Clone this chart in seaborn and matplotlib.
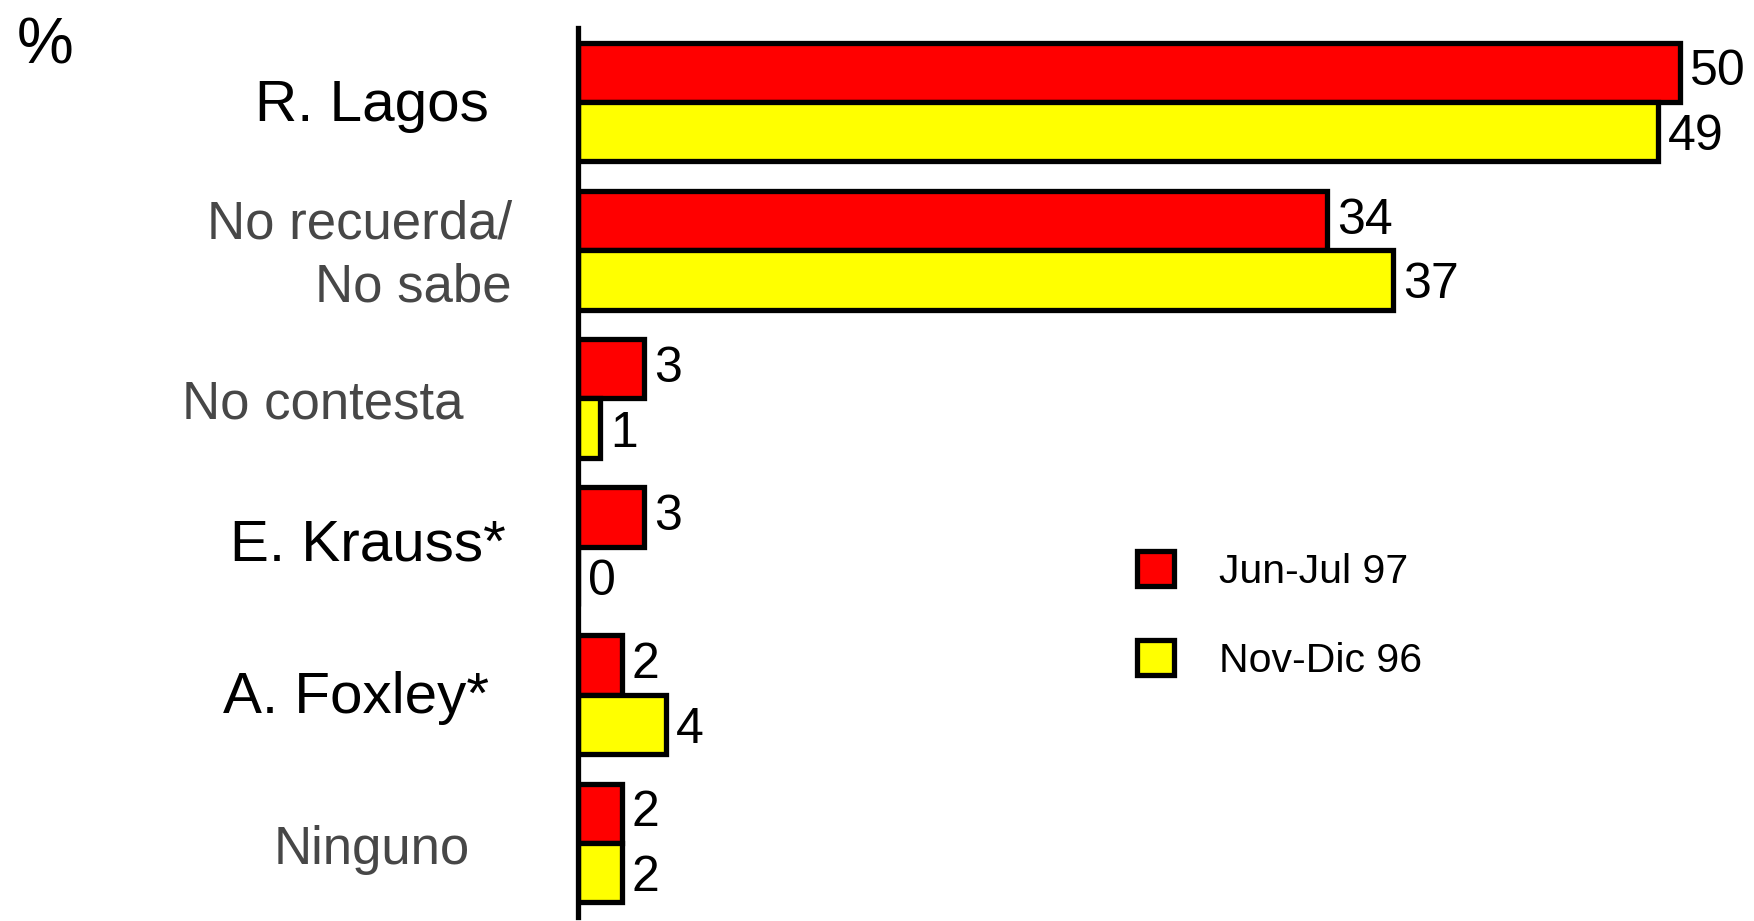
import seaborn as sns
import matplotlib.pyplot as plt
import matplotlib.transforms as mtransforms
from matplotlib.patches import Patch
import pandas as pd

# ----------------------------
# Data
# ----------------------------
categories = ["R. Lagos", "No recuerda/\nNo sabe", "No contesta",
              "E. Krauss*", "A. Foxley*", "Ninguno"]
periods = ["Jun-Jul 97", "Nov-Dic 96"]
jun_jul_97 = [50, 34, 3, 3, 2, 2]
nov_dic_96 = [49, 37, 1, 0, 4, 2]

df = pd.DataFrame({
    "Candidato": categories * 2,
    "Porcentaje": jun_jul_97 + nov_dic_96,
    "Periodo": [periods[0]] * len(categories) + [periods[1]] * len(categories),
})

# layout of the category labels (right edge in figure pixels, vertical nudge
# in points, colour, size)
label_right_px = [489, 512, 464, 506, 489, 470]
label_nudge_pt = [1.5, -4, -0.5, 5, 2, -1]
label_colors = ["black", "#474747", "#474747", "black", "black", "#474747"]
label_sizes = [42, 38, 38, 42, 42, 38]
bar_colors = ["#ff0000", "#ffff00"]

# ----------------------------
# Styling
# ----------------------------
sns.set_style("white")
plt.rcParams["font.family"] = ["Liberation Sans", "DejaVu Sans"]

W, H = 1754, 921
fig = plt.figure(figsize=(W / 100, H / 100), dpi=100)
ax = fig.add_axes([578 / W, 4 / H, (W - 578) / W, 889 / H])

sns.barplot(
    data=df, y="Candidato", x="Porcentaje", hue="Periodo", orient="h",
    palette=bar_colors, saturation=1, width=0.8,
    edgecolor="black", linewidth=3.8, ax=ax,
)

ax.set_xlim(0, (W - 578) / 22.04)
ax.set_ylim(5.5, -0.5)

# value labels (second series sits a little lower in the original)
for k, cont in enumerate(ax.containers):
    anns = ax.bar_label(cont, fmt="%d", padding=7, fontsize=36, color="black")
    if k == 1:
        for a in anns:
            a.xyann = (7, -4)

# axes cosmetics
for side in ["top", "right", "bottom"]:
    ax.spines[side].set_visible(False)
ax.spines["left"].set_linewidth(3.8)
ax.spines["left"].set_color("black")
ax.set_xticks([])
ax.set_yticks([i - 0.5 for i in range(len(categories) + 1)])
ax.set_yticklabels([])
ax.tick_params(axis="y", direction="inout", length=9, width=3, color="black")
ax.set_xlabel("")
ax.set_ylabel("")

# category labels
trans = mtransforms.blended_transform_factory(fig.transFigure, ax.transData)
for i, name in enumerate(categories):
    t = mtransforms.offset_copy(trans, fig=fig, y=label_nudge_pt[i], units="points")
    ax.text(label_right_px[i] / W, i, name, transform=t, ha="right",
            va="center_baseline" if "\n" not in name else "center",
            multialignment="right", fontsize=label_sizes[i],
            color=label_colors[i], linespacing=1.32)

fig.text(17 / W, 1 - 16 / H, "%", fontsize=46, va="top", ha="left", color="black")

# legend
handles = [Patch(facecolor=c, edgecolor="black", linewidth=3.8) for c in bar_colors]
if ax.get_legend() is not None:
    ax.get_legend().remove()
fig.legend(handles, periods, loc="upper left", bbox_to_anchor=(1137 / W, 1 - 551 / H),
           frameon=False, fontsize=29.5, handlelength=0.9, handleheight=0.95,
           handletextpad=1.1, labelspacing=1.2, borderpad=0, borderaxespad=0,
           labelcolor="black")

fig.savefig("out.png", dpi=100)
plt.close(fig)
